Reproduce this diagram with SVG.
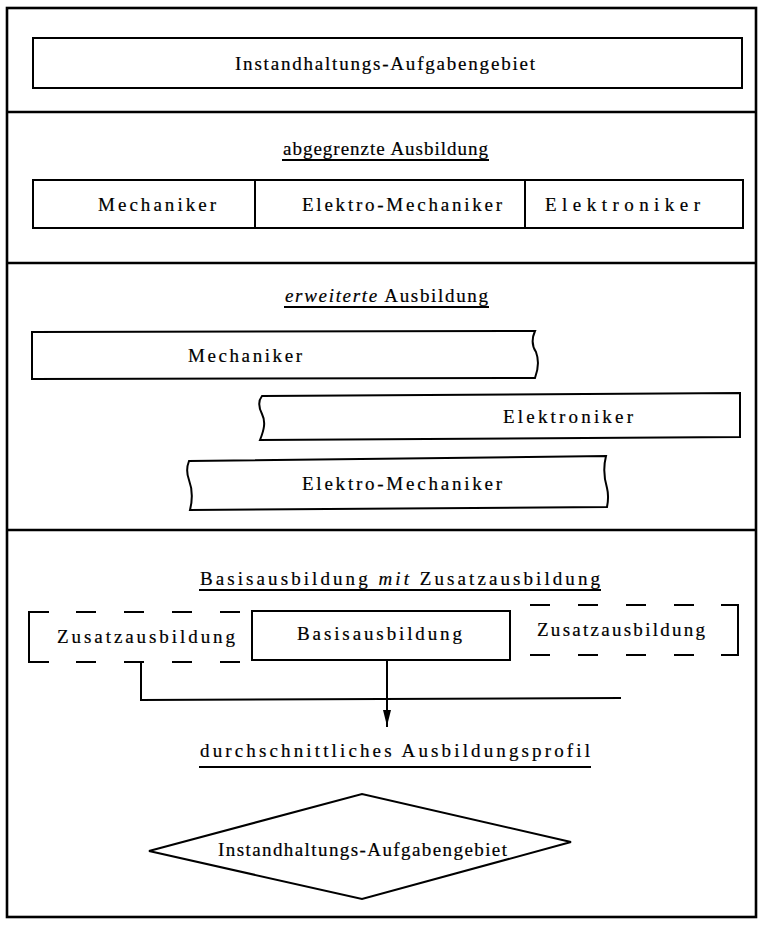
<svg xmlns="http://www.w3.org/2000/svg" width="770" height="927" viewBox="0 0 770 927">
  <style>
    .ln { fill: none; stroke: #000; stroke-width: 2; stroke-linecap: square; }
    .frame { fill: none; stroke: #000; stroke-width: 2.6; }
    .dash { fill: none; stroke: #000; stroke-width: 2; stroke-dasharray: 20 28; }
    .t { font-family: "Liberation Serif", "DejaVu Serif", serif; font-size: 19px; fill: #000; stroke: #000; stroke-width: 0.2; }
    .it { font-style: italic; }
  </style>
  <defs>
    <marker id="arrow" viewBox="0 0 16 8" refX="16" refY="4" markerWidth="16" markerHeight="8" markerUnits="userSpaceOnUse" orient="auto">
      <path d="M0,0 L16,4 L0,8 Z" fill="#000"/>
    </marker>
  </defs>
  <rect width="770" height="927" fill="#fff"/>

  <!-- outer frame and section dividers -->
  <g id="frame">
    <rect class="frame" x="7" y="8" width="749" height="909"/>
    <line class="frame" x1="7" y1="112" x2="756" y2="112"/>
    <line class="frame" x1="7" y1="263" x2="756" y2="263"/>
    <line class="frame" x1="7" y1="530" x2="756" y2="530"/>
  </g>

  <!-- section 1 -->
  <g id="aufgabengebiet">
    <rect class="ln" x="33" y="38" width="709" height="50"/>
    <text class="t" x="235" y="70" textLength="300" lengthAdjust="spacing">Instandhaltungs-Aufgabengebiet</text>
  </g>

  <!-- section 2: abgegrenzte Ausbildung -->
  <g id="titel-abgegrenzt">
    <text class="t" x="283" y="155" textLength="205" lengthAdjust="spacing">abgegrenzte Ausbildung</text>
    <line class="ln" x1="283" y1="160" x2="488" y2="160"/>
  </g>
  <g id="abgegrenzt-mechaniker">
    <rect class="ln" x="33" y="180" width="222" height="48"/>
    <text class="t" x="98" y="211" textLength="118" lengthAdjust="spacing">Mechaniker</text>
  </g>
  <g id="abgegrenzt-elektromechaniker">
    <rect class="ln" x="255" y="180" width="270" height="48"/>
    <text class="t" x="302" y="211" textLength="200" lengthAdjust="spacing">Elektro-Mechaniker</text>
  </g>
  <g id="abgegrenzt-elektroniker">
    <rect class="ln" x="525" y="180" width="218" height="48"/>
    <text class="t" x="545" y="211" textLength="155" lengthAdjust="spacing">Elektroniker</text>
  </g>

  <!-- section 3: erweiterte Ausbildung -->
  <g id="titel-erweitert">
    <text class="t" x="285" y="302" textLength="203" lengthAdjust="spacing"><tspan class="it">erweiterte</tspan> Ausbildung</text>
    <line class="ln" x1="285" y1="307" x2="488" y2="307"/>
  </g>
  <g id="erweitert-mechaniker">
    <path class="ln" d="M32,332 L535,331 C531,340 532,346 536,352 C539,360 538,370 535,378 L32,379 Z"/>
    <text class="t" x="188" y="362" textLength="114" lengthAdjust="spacing">Mechaniker</text>
  </g>
  <g id="erweitert-elektroniker">
    <path class="ln" d="M262,396 L740,393 L740,437 L260,440 C264,430 266,422 262,414 C258,406 258,401 262,396 Z"/>
    <text class="t" x="503" y="423" textLength="130" lengthAdjust="spacing">Elektroniker</text>
  </g>
  <g id="erweitert-elektromechaniker">
    <path class="ln" d="M189,461 L606,456 C603,468 604,478 607,488 C609,496 608,502 607,507 L190,510 C193,498 192,488 189,480 C186,472 187,466 189,461 Z"/>
    <text class="t" x="302" y="490" textLength="200" lengthAdjust="spacing">Elektro-Mechaniker</text>
  </g>

  <!-- section 4: Basisausbildung mit Zusatzausbildung -->
  <g id="titel-basis">
    <text class="t" x="200" y="585" textLength="400" lengthAdjust="spacing">Basisausbildung <tspan class="it">mit</tspan> Zusatzausbildung</text>
    <line class="ln" x1="200" y1="590" x2="600" y2="590"/>
  </g>
  <g id="zusatz-links">
    <path class="ln" d="M48,612 L29,612 L29,662 L48,662"/>
    <line class="dash" x1="76" y1="612" x2="252" y2="612"/>
    <line class="dash" x1="76" y1="662" x2="252" y2="662"/>
    <text class="t" x="57" y="643" textLength="178" lengthAdjust="spacing">Zusatzausbildung</text>
  </g>
  <g id="basis">
    <rect class="ln" x="252" y="611" width="258" height="49"/>
    <text class="t" x="297" y="640" textLength="165" lengthAdjust="spacing">Basisausbildung</text>
  </g>
  <g id="zusatz-rechts">
    <line class="dash" x1="530" y1="605" x2="718" y2="605"/>
    <line class="dash" x1="530" y1="655" x2="718" y2="655"/>
    <path class="ln" d="M722,605 L738,605 L738,655 L722,655"/>
    <text class="t" x="537" y="636" textLength="168" lengthAdjust="spacing">Zusatzausbildung</text>
  </g>

  <!-- connectors -->
  <g id="connectors">
    <path class="ln" d="M141,662 L141,700 L620,698"/>
    <line class="ln" x1="387" y1="660" x2="387" y2="726" marker-end="url(#arrow)"/>
  </g>

  <g id="titel-profil">
    <text class="t" x="200" y="757" textLength="390" lengthAdjust="spacing">durchschnittliches Ausbildungsprofil</text>
    <line class="ln" x1="200" y1="767" x2="590" y2="767"/>
  </g>
  <g id="profil-raute">
    <path class="ln" d="M149,851 L362,794 L571,842 L362,899 Z"/>
    <text class="t" x="218" y="856" textLength="289" lengthAdjust="spacing">Instandhaltungs-Aufgabengebiet</text>
  </g>
</svg>
